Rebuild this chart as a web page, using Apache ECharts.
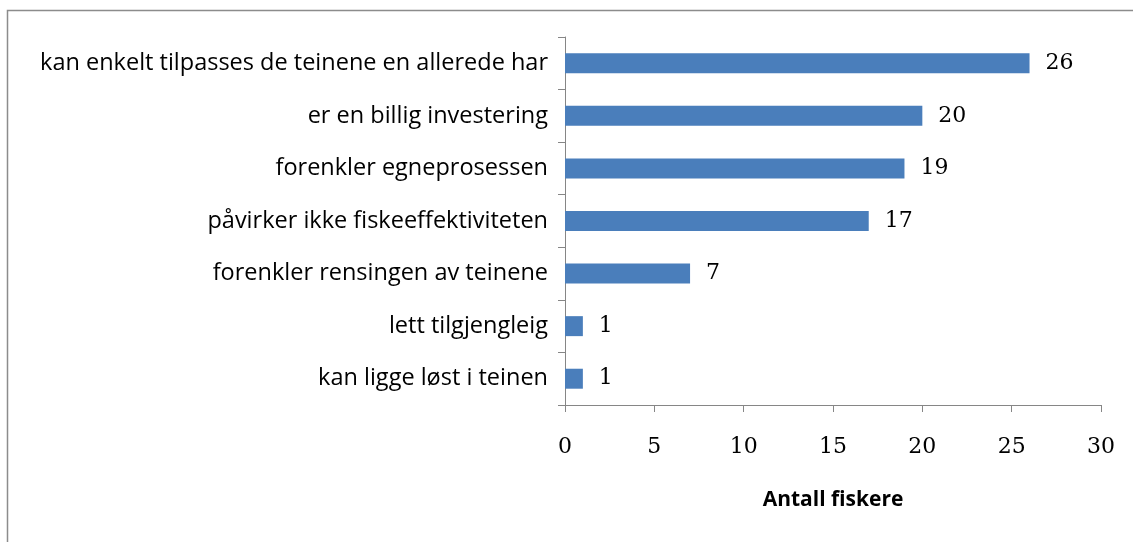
<!DOCTYPE html>
<html>
<head>
<meta charset="utf-8">
<script src="https://cdn.jsdelivr.net/npm/echarts@6/dist/echarts.min.js"></script>
<style>
  html, body { margin: 0; padding: 0; background: #fff; }
  #chart { width: 1133px; height: 542px; }
</style>
</head>
<body>
<div id="chart"></div>
<script>
// Reasons given by fishers, listed bottom to top as the category axis draws them
const categories = [
  'kan ligge løst i teinen',
  'lett tilgjengleig',
  'forenkler rensingen av teinene',
  'påvirker ikke fiskeeffektiviteten',
  'forenkler egneprosessen',
  'er en billig investering',
  'kan enkelt tilpasses de teinene en allerede har'
];
const counts = [1, 1, 7, 17, 19, 20, 26];
const axisTitle = 'Antall fiskere';

const chart = echarts.init(document.getElementById('chart'));
chart.setOption({
  animation: false,
  backgroundColor: '#ffffff',
  graphic: [{
    type: 'rect',
    shape: { x: 7.5, y: 10.5, width: 1200, height: 600 },
    style: { fill: 'none', stroke: '#8c8c8c', lineWidth: 1.5 },
    silent: true
  }],
  grid: { left: 565, right: 32, top: 37, bottom: 137 },
  xAxis: {
    type: 'value',
    min: 0, max: 30, interval: 5,
    name: axisTitle,
    nameLocation: 'middle',
    nameGap: 85,
    nameTextStyle: { fontFamily: 'Open Sans', fontWeight: 'bold', fontSize: 21, color: '#000', verticalAlign: 'top' },
    axisLine: { show: true, lineStyle: { color: '#868686', width: 1 } },
    axisTick: { show: true, length: 7, lineStyle: { color: '#868686' } },
    axisLabel: { fontFamily: 'DejaVu Serif', fontSize: 22, color: '#000', margin: 31 },
    splitLine: { show: false }
  },
  yAxis: {
    type: 'category',
    data: categories,
    axisLine: { show: true, lineStyle: { color: '#868686', width: 1 } },
    axisTick: { show: true, length: 7, lineStyle: { color: '#868686' } },
    axisLabel: { fontFamily: 'Open Sans', fontSize: 23.5, color: '#000', margin: 17 }
  },
  series: [{
    type: 'bar',
    data: counts,
    barWidth: '38%',
    itemStyle: { color: '#4a7ebb' },
    label: {
      show: true,
      position: 'right',
      distance: 16,
      fontFamily: 'DejaVu Serif',
      fontSize: 22,
      color: '#000'
    }
  }]
});
</script>
</body>
</html>
